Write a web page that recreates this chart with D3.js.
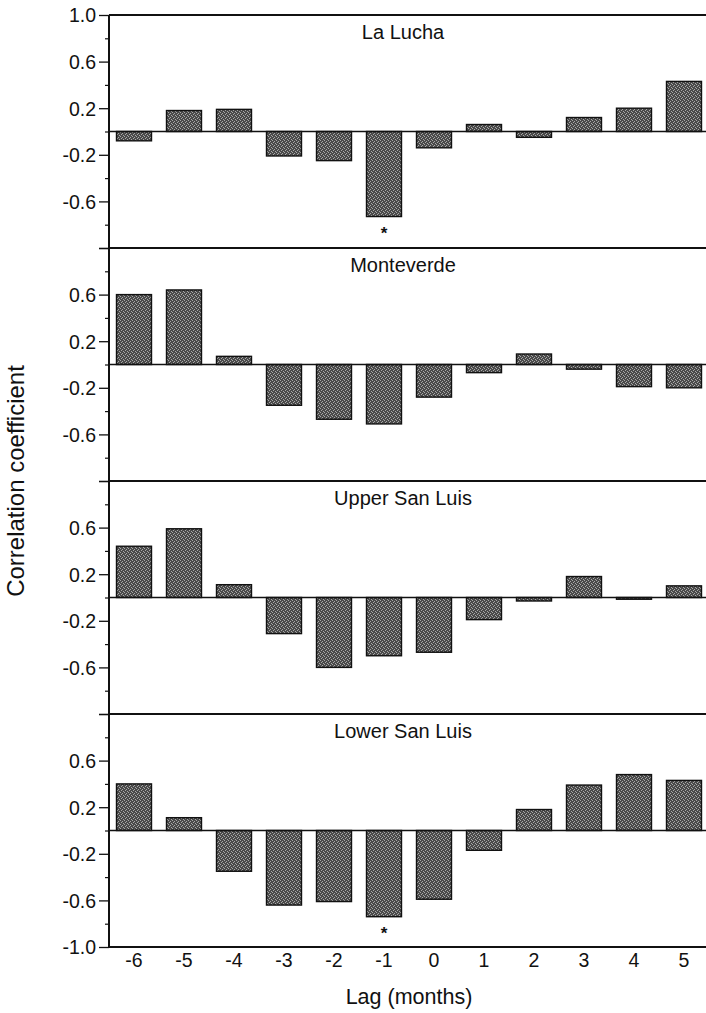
<!DOCTYPE html>
<html>
<head>
<meta charset="utf-8">
<script src="https://cdn.jsdelivr.net/npm/d3@7"></script>
<style>
  body { margin: 0; background: #fff; }
  svg text { font-family: "Liberation Sans", Arial, Helvetica, sans-serif; fill: #111; }
</style>
</head>
<body>
<div id="ChartDiv"></div>
<script>
// lags (months) on the x axis
const lags = ["-6", "-5", "-4", "-3", "-2", "-1", "0", "1", "2", "3", "4", "5"];

const sites = ["La Lucha", "Monteverde", "Upper San Luis", "Lower San Luis"];

// correlation coefficients, one per lag
const laLucha      = [-0.08, 0.18, 0.19, -0.21, -0.25, -0.73, -0.14, 0.06, -0.05, 0.12, 0.20, 0.43];
const monteverde   = [0.60, 0.64, 0.07, -0.35, -0.47, -0.51, -0.28, -0.07, 0.09, -0.04, -0.19, -0.20];
const upperSanLuis = [0.44, 0.59, 0.11, -0.31, -0.60, -0.50, -0.47, -0.19, -0.03, 0.18, -0.015, 0.10];
const lowerSanLuis = [0.40, 0.11, -0.35, -0.64, -0.61, -0.74, -0.59, -0.17, 0.18, 0.39, 0.48, 0.43];

// lags marked with an asterisk (significant)
const laLuchaSig = ["-1"];
const monteverdeSig = [];
const upperSanLuisSig = [];
const lowerSanLuisSig = ["-1"];

const yMajorTicks = [1.0, 0.6, 0.2, -0.2, -0.6, -1.0];
const yMinorTicks = [0.8, 0.4, 0.0, -0.4, -0.8];

const ctx = {
    width: 706,
    height: 1013,
    left: 109,
    right: 709,
    top: 15,
    panelH: 233,
};

function createViz() {
    const series = [laLucha, monteverde, upperSanLuis, lowerSanLuis];
    const sigs = [laLuchaSig, monteverdeSig, upperSanLuisSig, lowerSanLuisSig];

    const svgEl = d3.select("#ChartDiv")
        .append("svg")
        .attr("width", ctx.width)
        .attr("height", ctx.height);

    // stippled grey fill like the printed bars (dark base, light dots)
    const pat = svgEl.append("defs").append("pattern")
        .attr("id", "stip")
        .attr("width", 4).attr("height", 4)
        .attr("patternUnits", "userSpaceOnUse");
    pat.append("rect").attr("width", 4).attr("height", 4).attr("fill", "#4a4a4a");
    [[0, 0], [2, 1], [1, 2], [3, 3]].forEach(([px, py]) => {
        pat.append("rect")
            .attr("x", px).attr("y", py)
            .attr("width", 1).attr("height", 1)
            .attr("fill", "#a8a8a8");
    });

    const x = d3.scaleBand()
        .domain(lags)
        .range([ctx.left, ctx.right])
        .paddingInner(0.3)
        .paddingOuter(0.15);

    series.forEach((vals, i) => {
        const top = ctx.top + i * ctx.panelH;
        const y = d3.scaleLinear().domain([-1, 1]).range([top + ctx.panelH, top]);
        const g = svgEl.append("g");

        // major ticks with labels
        const fmt = d => {
            if (d === 1 && i !== 0) return "";
            if (d === -1 && i !== series.length - 1) return "";
            return d.toFixed(1);
        };
        const major = g.append("g")
            .attr("transform", `translate(${ctx.left},0)`)
            .call(d3.axisLeft(y).tickValues(yMajorTicks).tickSize(10).tickPadding(3).tickFormat(fmt));
        major.select(".domain").remove();
        major.selectAll("line").attr("stroke", "#111").attr("stroke-width", 1.3);
        major.selectAll("text")
            .style("font-size", "19.5px")
            .attr("dy", "0.35em");

        const minor = g.append("g")
            .attr("transform", `translate(${ctx.left},0)`)
            .call(d3.axisLeft(y).tickValues(yMinorTicks).tickSize(4).tickFormat(""));
        minor.select(".domain").remove();
        minor.selectAll("line").attr("stroke", "#111").attr("stroke-width", 1.2);

        // bars
        g.selectAll("rect.bar")
            .data(vals.map((v, k) => ({lag: lags[k], v: v})))
            .join("rect")
            .attr("class", "bar")
            .attr("x", d => x(d.lag))
            .attr("width", x.bandwidth())
            .attr("y", d => y(Math.max(0, d.v)))
            .attr("height", d => Math.abs(y(d.v) - y(0)))
            .attr("fill", "url(#stip)")
            .attr("stroke", "#111")
            .attr("stroke-width", 1.4);

        // zero line
        g.append("line")
            .attr("x1", ctx.left).attr("x2", ctx.width)
            .attr("y1", y(0)).attr("y2", y(0))
            .attr("stroke", "#111").attr("stroke-width", 1.6);

        // panel top frame line
        g.append("line")
            .attr("x1", ctx.left).attr("x2", ctx.width)
            .attr("y1", y(1)).attr("y2", y(1))
            .attr("stroke", "#111").attr("stroke-width", 1.8);

        // asterisks
        g.selectAll("text.sig")
            .data(sigs[i])
            .join("text")
            .attr("class", "sig")
            .attr("x", d => x(d) + x.bandwidth() / 2)
            .attr("y", d => y(vals[lags.indexOf(d)]) + 22)
            .attr("text-anchor", "middle")
            .style("font-size", "17px")
            .style("font-weight", "bold")
            .text("*");

        // site name
        g.append("text")
            .attr("x", 403)
            .attr("y", top + 24)
            .attr("text-anchor", "middle")
            .style("font-size", "20px")
            .text(sites[i]);
    });

    const bottom = ctx.top + series.length * ctx.panelH;

    // bottom frame and left axis line
    svgEl.append("line")
        .attr("x1", ctx.left).attr("x2", ctx.width)
        .attr("y1", bottom).attr("y2", bottom)
        .attr("stroke", "#111").attr("stroke-width", 1.8);
    svgEl.append("line")
        .attr("x1", ctx.left).attr("x2", ctx.left)
        .attr("y1", ctx.top).attr("y2", bottom)
        .attr("stroke", "#111").attr("stroke-width", 2);

    // x tick labels
    const xAxis = svgEl.append("g")
        .attr("transform", `translate(0,${bottom})`)
        .call(d3.axisBottom(x).tickSize(0).tickPadding(20));
    xAxis.select(".domain").remove();
    xAxis.selectAll("text")
        .style("font-size", "19.5px")
        .attr("dy", "0");

    svgEl.append("text")
        .attr("x", (ctx.left + ctx.right) / 2)
        .attr("y", 1004)
        .attr("text-anchor", "middle")
        .style("font-size", "21.5px")
        .text("Lag (months)");

    svgEl.append("text")
        .attr("transform", `translate(24,${(ctx.top + bottom) / 2}) rotate(-90)`)
        .attr("text-anchor", "middle")
        .style("font-size", "24px")
        .text("Correlation coefficient");
}

createViz();
</script>
</body>
</html>
